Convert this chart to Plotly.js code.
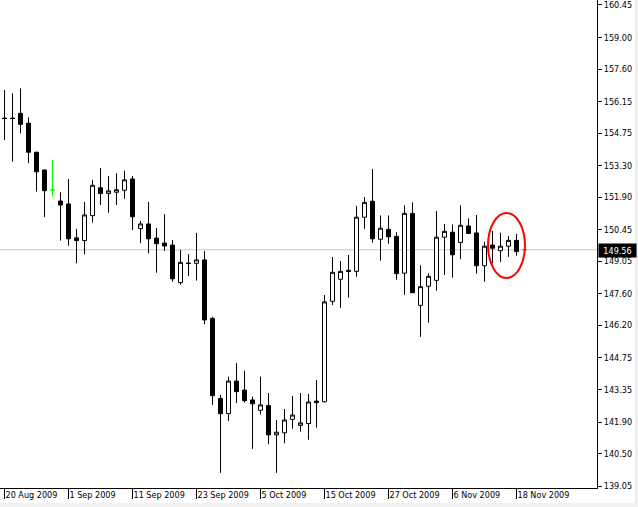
<!DOCTYPE html>
<html><head><meta charset="utf-8">
<script src="https://cdn.plot.ly/plotly-3.0.1.min.js"></script>
<style>html,body{margin:0;padding:0;background:#fff;overflow:hidden}#chart{width:638px;height:507px}</style>
</head><body><div id="chart"></div>
<script>
const dates = [
 '2009-08-20','2009-08-21','2009-08-24','2009-08-25','2009-08-26','2009-08-27','2009-08-28','2009-08-31',
 '2009-09-01','2009-09-02','2009-09-03','2009-09-04','2009-09-07','2009-09-08','2009-09-09','2009-09-10','2009-09-11',
 '2009-09-14','2009-09-15','2009-09-16','2009-09-17','2009-09-18','2009-09-21','2009-09-22','2009-09-23','2009-09-24',
 '2009-09-25','2009-09-28','2009-09-29','2009-09-30',
 '2009-10-01','2009-10-02','2009-10-05','2009-10-06','2009-10-07','2009-10-08','2009-10-09','2009-10-12','2009-10-13',
 '2009-10-14','2009-10-15','2009-10-16','2009-10-19','2009-10-20','2009-10-21','2009-10-22','2009-10-23','2009-10-26',
 '2009-10-27','2009-10-28','2009-10-29','2009-10-30',
 '2009-11-02','2009-11-03','2009-11-04','2009-11-05','2009-11-06','2009-11-09','2009-11-10','2009-11-11','2009-11-12',
 '2009-11-13','2009-11-16','2009-11-17','2009-11-18','2009-11-19'
];
const open = [155.42,155.42,155.63,155.19,153.90,153.11,152.22,151.73,151.60,150.09,
 149.97,151.08,152.32,152.06,152.12,152.21,152.71,150.50,150.71,150.08,
 149.86,149.77,148.10,148.97,148.96,149.11,146.51,142.95,142.27,143.72,
 143.32,142.88,142.42,142.63,141.33,141.42,142.02,141.75,141.83,142.83,
 142.80,147.27,148.25,148.65,148.60,151.01,151.72,150.03,150.47,150.16,
 148.52,151.18,147.09,147.94,148.20,150.12,150.34,149.89,150.62,150.31,
 148.85,149.77,149.52,149.72,149.98,149.56];
const high = [156.67,156.52,156.74,155.45,153.92,153.14,153.56,152.12,152.71,150.49,
 151.69,152.67,153.20,152.84,152.96,153.08,152.84,150.84,151.69,150.53,
 151.15,150.00,149.55,149.37,150.31,149.51,146.58,143.10,143.92,144.52,
 144.18,143.03,143.92,143.19,141.99,142.48,143.06,143.19,143.15,143.77,
 147.55,149.24,149.06,149.33,151.51,151.91,153.15,151.09,151.09,150.34,
 151.54,151.67,148.87,148.52,151.29,150.71,150.69,151.54,150.96,151.11,
 149.92,150.40,150.32,150.17,150.26,149.57];
const low = [154.44,153.48,154.74,153.41,152.15,151.01,151.92,149.97,149.74,148.96,
 149.36,150.77,151.55,151.21,151.55,151.83,150.44,149.85,149.40,148.54,
 149.52,148.14,148.01,148.39,148.19,146.25,142.66,139.64,141.94,142.74,
 142.76,140.71,142.23,140.91,139.64,140.95,141.60,141.47,141.11,141.65,
 142.78,147.10,146.98,147.43,148.36,150.49,149.88,149.08,149.83,148.23,
 147.56,147.64,145.69,146.32,147.74,148.44,148.32,149.14,150.26,148.50,
 148.14,148.96,149.02,149.25,149.30,149.55];
const close = [155.40,155.40,155.14,153.90,153.03,152.19,152.22,151.55,150.05,149.97,
 151.11,152.43,152.06,152.18,152.23,152.67,151.03,150.71,150.05,149.83,
 149.73,148.27,149.00,148.95,149.11,146.44,143.07,142.27,143.72,143.25,
 142.85,142.71,142.66,141.33,141.45,141.99,142.21,141.86,142.79,142.76,
 147.24,148.56,148.60,148.60,151.01,151.67,150.05,150.52,150.14,148.50,
 151.18,147.65,147.92,148.38,150.12,150.38,149.34,150.65,150.29,148.85,
 149.72,149.63,149.72,149.98,149.48,149.56];
const tickDates = ['2009-08-20','2009-09-01','2009-09-11','2009-09-23','2009-10-05','2009-10-15','2009-10-27','2009-11-06','2009-11-18'];
const tickLabels = ['20 Aug 2009','1 Sep 2009','11 Sep 2009','23 Sep 2009','5 Oct 2009','15 Oct 2009','27 Oct 2009','6 Nov 2009','18 Nov 2009'];
const priceTicks = [160.45,159.00,157.60,156.15,154.75,153.30,151.90,150.45,149.05,147.60,146.20,144.75,143.35,141.90,140.50,139.05];
const priceTickLabels = ['160.45','159.00','157.60','156.15','154.75','153.30','151.90','150.45','149.05','147.60','146.20','144.75','143.35','141.90','140.50','139.05'];
const lastPrice = 149.56;
const lastPriceLabel = '149.56';

const FONT = '"DejaVu Sans Condensed", "Liberation Sans", sans-serif';
const FS = 9;

const isDoji = dates.map((d, i) => open[i] === close[i]);
const pick = (arr, want) => arr.filter((v, i) => isDoji[i] === want);

const candleMain = {
  type: 'candlestick',
  x: pick(dates, false), open: pick(open, false), high: pick(high, false), low: pick(low, false), close: pick(close, false),
  whiskerwidth: 0,
  increasing: {line: {color: '#000000', width: 1}, fillcolor: '#ffffff'},
  decreasing: {line: {color: '#000000', width: 1}, fillcolor: '#000000'},
  hoverinfo: 'skip', showlegend: false
};
const candleDoji = {
  type: 'candlestick',
  x: pick(dates, true), open: pick(open, true), high: pick(high, true), low: pick(low, true), close: pick(close, true),
  whiskerwidth: 0,
  increasing: {line: {color: '#00ff00', width: 1}, fillcolor: '#00ff00'},
  decreasing: {line: {color: '#00ff00', width: 1}, fillcolor: '#00ff00'},
  hoverinfo: 'skip', showlegend: false
};

const PH = 488, PW = 597;
const layout = {
  width: 638, height: 507,
  margin: {l: 0, r: 41, t: 0, b: 19, pad: 0},
  paper_bgcolor: '#ffffff', plot_bgcolor: '#ffffff',
  showlegend: false,
  boxgap: 0.5, boxgroupgap: 0,
  font: {family: FONT, size: FS, color: '#000000'},
  xaxis: {
    type: 'category', categoryorder: 'array', categoryarray: dates,
    range: [-0.5625, 74.0625], rangeslider: {visible: false},
    showgrid: false, zeroline: false, showline: true, linecolor: '#000000', linewidth: 1,
    ticks: 'outside', ticklen: 10, tickcolor: '#000000', tickwidth: 1,
    tickmode: 'array', tickvals: tickDates, ticktext: tickLabels,
    tickangle: 0, ticklabelposition: 'outside right', ticklabelstandoff: -2,
    ticklabeloverflow: 'allow',
    tickfont: {family: FONT, size: FS, color: '#000000'}, fixedrange: true
  },
  yaxis: {
    side: 'right', range: [138.964, 160.672],
    showgrid: false, zeroline: false, showline: true, linecolor: '#000000', linewidth: 1,
    ticks: 'outside', ticklen: 4, tickcolor: '#000000', tickwidth: 1,
    tickmode: 'array', tickvals: priceTicks, ticktext: priceTickLabels,
    ticklabeloverflow: 'allow',
    tickfont: {family: FONT, size: FS, color: '#000000'}, fixedrange: true
  },
  shapes: [
    {type: 'line', xref: 'paper', yref: 'y', x0: 0, x1: 1, y0: lastPrice, y1: lastPrice,
     line: {color: '#c0c6d4', width: 1}, layer: 'below'},
    {type: 'circle', xref: 'x', yref: 'y', x0: 60.44, x1: 65.06, y0: 148.31, y1: 151.20,
     line: {color: '#ff0000', width: 2}, layer: 'above'},
    {type: 'rect', xref: 'paper', yref: 'paper', x0: 0, x1: 638 / PW, y0: -19 / PH, y1: -15 / PH,
     line: {width: 0}, fillcolor: '#f0f0f0', layer: 'below'},
    {type: 'rect', xref: 'paper', yref: 'paper', x0: 635 / PW, x1: 638 / PW, y0: -19 / PH, y1: 1,
     line: {width: 0}, fillcolor: '#f0f0f0', layer: 'below'}
  ],
  annotations: [
    {xref: 'paper', yref: 'y', x: 1, y: lastPrice, xanchor: 'left', yanchor: 'middle',
     xshift: 1, yshift: -1, width: 37, height: 13, borderpad: 0,
     text: lastPriceLabel, showarrow: false, bgcolor: '#000000',
     font: {family: FONT, size: FS, color: '#ffffff'}}
  ]
};

Plotly.newPlot('chart', [candleMain, candleDoji], layout, {displayModeBar: false, staticPlot: true});
</script>
</body></html>
